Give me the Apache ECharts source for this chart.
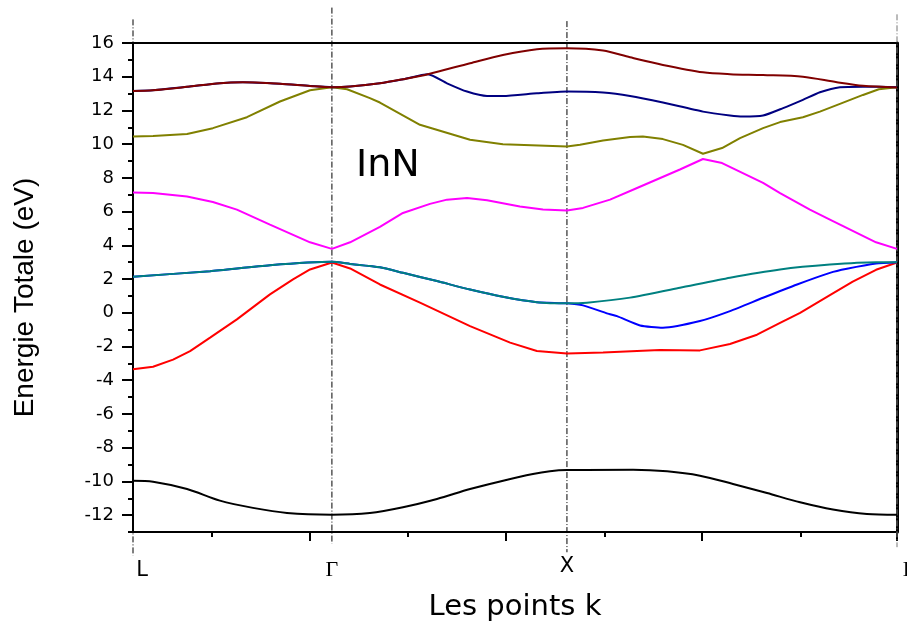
<!DOCTYPE html>
<html>
<head>
  <meta charset="utf-8">
</head>
<body style="margin: 0; overflow: hidden">
  <div id="container" style="width: 907px; height: 627px"></div>
  <script src="https://cdn.jsdelivr.net/npm/echarts@6/dist/echarts.min.js"></script>
  <script type="text/javascript">
    // high symmetry points along the k path
    var kPoints = [0, 0.854, 1.863, 3.28];
    var kLabels = ['L', 'Γ', 'X', 'Γ'];
    var kMajorTicks = [0.760, 1.602, 2.443, 3.28];
    var kMinorTicks = [0.339, 1.181, 2.027, 2.868];
    var eMajorTicks = [-12, -10, -8, -6, -4, -2, 0, 2, 4, 6, 8, 10, 12, 14, 16];
    var eMinorTicks = [-13, -11, -9, -7, -5, -3, -1, 1, 3, 5, 7, 9, 11, 13, 15];
    // extent of the dash-dot guide lines (eV)
    var guideTop = [17.4, 18.1, 17.3, 17.7];
    var guideBottom = [-14.4, -13.7, -14.2, -13.9];

    // bands: [k, E(eV)]
    var band1 = [[0, -9.96], [0.086, -10.02], [0.232, -10.45], [0.373, -11.14], [0.515, -11.57], [0.661, -11.87],
      [0.854, -11.97], [1.017, -11.87], [1.159, -11.53], [1.305, -11.04], [1.447, -10.45], [1.576, -10.0],
      [1.717, -9.56], [1.790, -9.4], [1.863, -9.33], [2.147, -9.31], [2.293, -9.4],
      [2.434, -9.66], [2.576, -10.15], [2.722, -10.69], [2.864, -11.24], [3.005, -11.67], [3.151, -11.93], [3.28, -11.97]];
    var band2 = [[0, -3.35], [0.086, -3.2], [0.172, -2.78], [0.245, -2.27], [0.331, -1.47], [0.446, -0.39],
      [0.588, 1.09], [0.687, 1.98], [0.760, 2.57], [0.854, 2.98], [0.932, 2.63], [1.060, 1.68], [1.232, 0.6],
      [1.447, -0.79], [1.619, -1.77], [1.734, -2.27], [1.863, -2.42], [2.018, -2.36], [2.164, -2.27],
      [2.262, -2.21], [2.434, -2.23], [2.563, -1.85], [2.679, -1.3], [2.778, -0.6], [2.864, 0.0],
      [2.992, 1.05], [3.09, 1.85], [3.19, 2.55], [3.28, 2.98]];
    var band3 = [[0, 2.14], [0.331, 2.47], [0.588, 2.82], [0.854, 3.02], [0.932, 2.9], [1.060, 2.7],
      [1.159, 2.37], [1.305, 1.88], [1.447, 1.38], [1.588, 0.95], [1.734, 0.63], [1.863, 0.56], [1.932, 0.44],
      [2.048, -0.09], [2.078, -0.2], [2.177, -0.75], [2.275, -0.88], [2.434, -0.49], [2.563, 0.1],
      [2.705, 0.89], [2.851, 1.68], [2.992, 2.37], [3.065, 2.61], [3.19, 2.92], [3.28, 3.0]];
    var band4 = [[0, 2.14], [0.331, 2.47], [0.588, 2.82], [0.854, 3.02], [0.932, 2.9], [1.060, 2.7],
      [1.159, 2.37], [1.305, 1.88], [1.447, 1.38], [1.588, 0.95], [1.734, 0.63], [1.863, 0.56], [1.949, 0.6],
      [2.134, 0.9], [2.348, 1.48], [2.563, 2.08], [2.778, 2.57], [2.992, 2.86], [3.19, 3.0], [3.28, 3.0]];
    var band5 = [[0, 7.14], [0.086, 7.1], [0.232, 6.9], [0.343, 6.57], [0.446, 6.12], [0.588, 5.23],
      [0.760, 4.18], [0.854, 3.79], [0.932, 4.18], [1.060, 5.09], [1.159, 5.92], [1.275, 6.46], [1.348, 6.71],
      [1.434, 6.81], [1.520, 6.67], [1.661, 6.31], [1.760, 6.12], [1.863, 6.06], [1.932, 6.22], [2.048, 6.71],
      [2.164, 7.4], [2.348, 8.5], [2.447, 9.12], [2.529, 8.88], [2.705, 7.7], [2.778, 7.1],
      [2.906, 6.12], [2.992, 5.53], [3.19, 4.18], [3.28, 3.79]];
    var band6 = [[0, 10.46], [0.086, 10.48], [0.232, 10.6], [0.343, 10.95], [0.489, 11.6], [0.631, 12.53],
      [0.760, 13.2], [0.854, 13.38], [0.919, 13.26], [1.017, 12.73], [1.060, 12.47], [1.232, 11.15],
      [1.447, 10.26], [1.588, 10.0], [1.863, 9.86], [1.919, 9.96], [2.018, 10.22], [2.134, 10.42],
      [2.189, 10.46], [2.275, 10.3], [2.361, 9.96], [2.447, 9.43], [2.529, 9.77], [2.606, 10.36],
      [2.705, 10.95], [2.778, 11.31], [2.876, 11.6], [2.949, 11.93], [3.035, 12.39], [3.134, 12.92],
      [3.202, 13.26], [3.28, 13.38]];
    var band7 = [[0, 13.16], [0.086, 13.2], [0.232, 13.4], [0.373, 13.62], [0.472, 13.67], [0.631, 13.58],
      [0.760, 13.45], [0.854, 13.38], [0.932, 13.42], [1.060, 13.61], [1.159, 13.85], [1.266, 14.15],
      [1.348, 13.61], [1.434, 13.12], [1.520, 12.86], [1.588, 12.86], [1.734, 13.02], [1.863, 13.12],
      [2.018, 13.06], [2.134, 12.86], [2.275, 12.47], [2.447, 11.93], [2.563, 11.7], [2.619, 11.64],
      [2.705, 11.7], [2.791, 12.14], [2.876, 12.63], [2.949, 13.08], [3.035, 13.38], [3.134, 13.41], [3.28, 13.38]];
    var band8 = [[0, 13.16], [0.086, 13.2], [0.232, 13.4], [0.373, 13.62], [0.472, 13.67], [0.631, 13.58],
      [0.760, 13.45], [0.854, 13.38], [0.932, 13.42], [1.060, 13.61], [1.159, 13.85], [1.266, 14.15],
      [1.447, 14.8], [1.588, 15.29], [1.734, 15.63], [1.863, 15.69], [2.018, 15.55], [2.134, 15.15],
      [2.275, 14.7], [2.447, 14.26], [2.563, 14.15], [2.705, 14.1], [2.876, 14.0], [3.022, 13.67],
      [3.134, 13.46], [3.28, 13.36]];

    // drawing order: blue under teal, navy under dark red where they are degenerate
    var bands = [band1, band2, band3, band4, band5, band6, band7, band8];
    var bandColors = ['#000000', '#ff0000', '#0000ff', '#008080', '#ff00ff', '#808000', '#000080', '#800000'];
    // red, magenta and olive keep their kinks
    var bandSmooth = [0.3, 0, 0.2, 0.2, 0, 0, 0.2, 0.3];

    var dom = document.getElementById('container');
    var myChart = echarts.init(dom, null, { renderer: 'canvas', width: 907, height: 627 });

    var series = [];
    kPoints.forEach(function (k, i) {
      series.push({
        type: 'line',
        clip: false,
        symbol: 'none',
        silent: true,
        z: 1,
        data: [[k, guideTop[i]], [k, guideBottom[i]]],
        lineStyle: { color: i === 3 ? '#777' : '#000', width: 1, type: [6, 2, 1, 2] }
      });
    });
    bands.forEach(function (b, i) {
      series.push({
        type: 'line',
        symbol: 'none',
        smooth: bandSmooth[i],
        z: 3,
        data: b,
        lineStyle: { color: bandColors[i], width: 2 }
      });
    });

    var option = {
      animation: false,
      backgroundColor: '#fff',
      grid: { left: 133, right: 10, top: 43, bottom: 95, outerBoundsMode: 'none' },
      graphic: [{
        type: 'text', left: 356, top: 147,
        style: { text: 'InN', font: '38px "DejaVu Sans"', fill: '#000' }
      }],
      xAxis: [
        {
          type: 'value', position: 'bottom', min: 0, max: 3.28,
          splitLine: { show: false },
          axisLine: { onZero: false, lineStyle: { color: '#000', width: 2 } },
          axisTick: { customValues: kMajorTicks, length: 9, lineStyle: { width: 2, color: '#000' } },
          axisLabel: {
            customValues: kPoints,
            margin: 24,
            formatter: function (v) {
              var i = kPoints.indexOf(v);
              if (i === 0) return '{l|' + kLabels[0] + '}';
              if (i === 1) return '{g|' + kLabels[1] + '}';
              if (i === 2) return '{x|' + kLabels[2] + '}';
              return '{e|' + kLabels[3] + '}';
            },
            rich: {
              l: { fontFamily: 'DejaVu Sans', fontSize: 21, color: '#000', padding: [4, 0, 0, 18] },
              g: { fontFamily: 'Liberation Serif', fontSize: 22, color: '#000', padding: [3, 0, 0, 0] },
              x: { fontFamily: 'DejaVu Sans', fontSize: 21, color: '#000' },
              e: { fontFamily: 'Liberation Serif', fontSize: 22, color: '#000', padding: [3, 0, 0, 24] }
            }
          },
          name: 'Les points k',
          nameLocation: 'middle',
          nameGap: 61,
          nameTextStyle: { fontFamily: 'DejaVu Sans', fontSize: 29, color: '#000' }
        },
        {
          type: 'value', position: 'bottom', min: 0, max: 3.28,
          splitLine: { show: false },
          axisLine: { show: false, onZero: false },
          axisTick: { customValues: kMinorTicks, length: 5, lineStyle: { width: 2, color: '#000' } },
          axisLabel: { show: false }
        },
        {
          type: 'value', position: 'top', min: 0, max: 3.28,
          splitLine: { show: false },
          axisLine: { onZero: false, lineStyle: { color: '#000', width: 2 } },
          axisTick: { show: false },
          axisLabel: { show: false }
        }
      ],
      yAxis: [
        {
          type: 'value', position: 'left', min: -13, max: 16,
          splitLine: { show: false },
          axisLine: { onZero: false, lineStyle: { color: '#000', width: 2 } },
          axisTick: { customValues: eMajorTicks, length: 11, lineStyle: { width: 2, color: '#000' } },
          axisLabel: {
            customValues: eMajorTicks, margin: 19,
            fontFamily: 'DejaVu Sans', fontSize: 18, color: '#000'
          },
          name: 'Energie Totale (eV)',
          nameLocation: 'middle',
          nameGap: 94,
          nameTextStyle: { fontFamily: 'Liberation Sans', fontSize: 28, color: '#000', padding: [0, 20, 0, 0] }
        },
        {
          type: 'value', position: 'left', min: -13, max: 16,
          splitLine: { show: false },
          axisLine: { show: false, onZero: false },
          axisTick: { customValues: eMinorTicks, length: 5, lineStyle: { width: 2, color: '#000' } },
          axisLabel: { show: false }
        },
        {
          type: 'value', position: 'right', min: -13, max: 16,
          splitLine: { show: false },
          axisLine: { onZero: false, lineStyle: { color: '#000', width: 3 } },
          axisTick: { show: false },
          axisLabel: { show: false }
        }
      ],
      series: series
    };

    myChart.setOption(option);
    window.addEventListener('resize', myChart.resize);
  </script>
</body>
</html>
